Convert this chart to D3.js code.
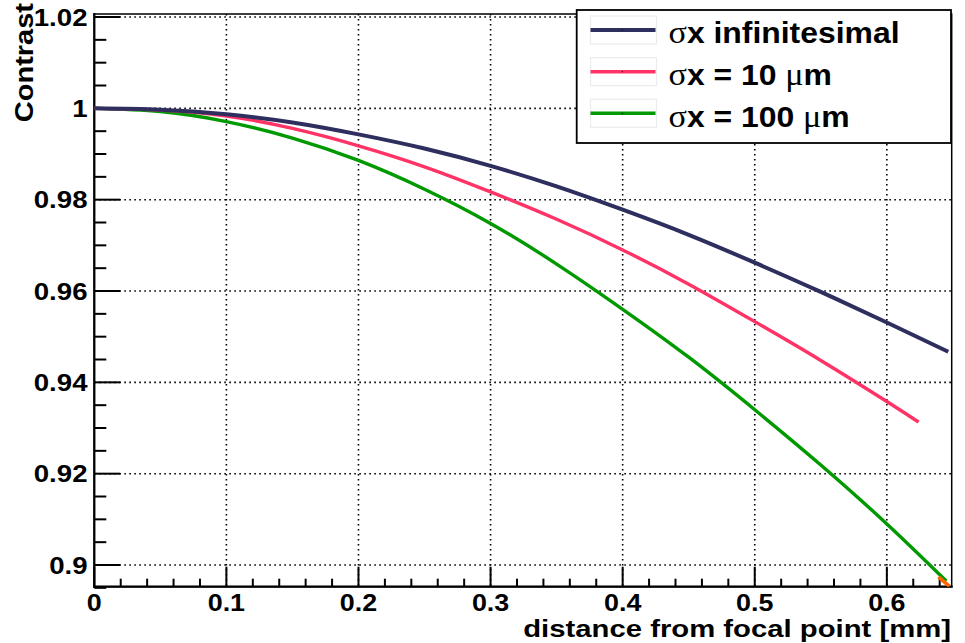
<!DOCTYPE html>
<html>
<head>
<meta charset="utf-8">
<script src="https://cdn.jsdelivr.net/npm/d3@7"></script>
<style>
  html, body { margin: 0; padding: 0; background: #fff; }
  svg { display: block; }
  text { font-family: "Liberation Sans", Arial, Helvetica, sans-serif; font-weight: bold; fill: #000; }
</style>
</head>
<body>
<svg id="chart" width="965" height="643"></svg>
<script>
// ---------------- data ----------------
const xInfinitesimal = [0, 0.05, 0.1, 0.15, 0.2, 0.25, 0.3, 0.35, 0.4, 0.45, 0.5, 0.55, 0.6, 0.6465];
const yInfinitesimal = [1.0, 0.9997, 0.9987, 0.9969, 0.9943, 0.9912, 0.9874, 0.9829, 0.9778, 0.9723, 0.9662, 0.9598, 0.9531, 0.9467];

const x10um = [0, 0.05, 0.1, 0.15, 0.2, 0.25, 0.3, 0.35, 0.4, 0.45, 0.5, 0.55, 0.6, 0.624];
const y10um = [1.0, 0.9996, 0.9983, 0.9956, 0.9918, 0.9872, 0.9817, 0.9757, 0.9690, 0.9615, 0.9533, 0.9448, 0.9358, 0.9313];

const x100um = [0, 0.05, 0.1, 0.15, 0.2, 0.25, 0.3, 0.35, 0.4, 0.45, 0.5, 0.55, 0.6, 0.645];
const y100um = [1.0, 0.9993, 0.9971, 0.9935, 0.9886, 0.9823, 0.9748, 0.9659, 0.9560, 0.9455, 0.9340, 0.9219, 0.9090, 0.8965];

const xExtra = [0.639, 0.6475];
const yExtra = [0.8974, 0.8953];

const xMajorTicks = [0, 0.1, 0.2, 0.3, 0.4, 0.5, 0.6];
const xTickLabels = ["0", "0.1", "0.2", "0.3", "0.4", "0.5", "0.6"];
const yMajorTicks = [0.9, 0.92, 0.94, 0.96, 0.98, 1.0, 1.02];
const yTickLabels = ["0.9", "0.92", "0.94", "0.96", "0.98", "1", "1.02"];

const legendLabels = [
  ["σ", "x infinitesimal"],
  ["σ", "x = 10 ", "μ", "m"],
  ["σ", "x = 100 ", "μ", "m"]
];
const seriesColors = ["#2f2f5f", "#ff3366", "#009900"];

// ---------------- layout ----------------
const L = 94.3, R = 951.7, T = 14, B = 586.7;
const svg = d3.select("#chart");

const x = d3.scaleLinear().domain([0, 0.6491]).range([L, R]);
const y = d3.scaleLinear().domain([0.89525, 1.02066]).range([B, T]);

// grid
const grid = svg.append("g").attr("stroke", "#000").attr("stroke-width", 1.6)
  .attr("stroke-dasharray", "1.6,3.4");
xMajorTicks.filter(v => v > 0).forEach(v => {
  grid.append("line").attr("x1", x(v)).attr("x2", x(v)).attr("y1", T).attr("y2", B);
});
yMajorTicks.forEach(v => {
  grid.append("line").attr("x1", L).attr("x2", R).attr("y1", y(v)).attr("y2", y(v));
});

// frame
svg.append("rect").attr("x", L).attr("y", T).attr("width", R - L).attr("height", B - T)
  .attr("fill", "none").attr("stroke", "#000").attr("stroke-width", 1.5);

// ticks
const ticks = svg.append("g").attr("stroke", "#000").attr("stroke-width", 2);
const xMinor = d3.range(0, 33).map(i => i * 0.02).filter(v => v <= 0.649);
xMinor.forEach(v => {
  const major = xMajorTicks.some(m => Math.abs(m - v) < 1e-6);
  ticks.append("line").attr("x1", x(v)).attr("x2", x(v)).attr("y1", B).attr("y2", B - (major ? 20 : 8));
});
const yMinor = d3.range(0, 25).map(i => 0.9 + i * 0.005).filter(v => v <= 1.0205);
yMinor.forEach(v => {
  const major = yMajorTicks.some(m => Math.abs(m - v) < 1e-6);
  ticks.append("line").attr("x1", L).attr("x2", L + (major ? 26 : 12)).attr("y1", y(v)).attr("y2", y(v));
});
ticks.append("line").attr("x1", L).attr("x2", L + 12).attr("y1", y(0.895)).attr("y2", y(0.895));

// axis lines
svg.append("line").attr("x1", L).attr("x2", L).attr("y1", T - 1).attr("y2", B + 1).attr("stroke", "#000").attr("stroke-width", 2.2);
svg.append("line").attr("x1", L - 1).attr("x2", R + 1).attr("y1", B).attr("y2", B).attr("stroke", "#000").attr("stroke-width", 2.2);

// text helper
function stext(g, px, py, str, size, anchor, sx, rot) {
  return g.append("text")
    .attr("transform", `translate(${px},${py})` + (rot ? ` rotate(${rot})` : "") + ` scale(${sx},1)`)
    .attr("font-size", size).attr("text-anchor", anchor).text(str);
}
xMajorTicks.forEach((v, i) => stext(svg, x(v), 611, xTickLabels[i], 24, "middle", 1.12));
yMajorTicks.forEach((v, i) => stext(svg, 87.5, y(v) + 8.5, yTickLabels[i], 24, "end", 1.15));

// axis titles
stext(svg, 951, 637, "distance from focal point [mm]", 24, "end", 1.22);
stext(svg, 33, 3, "Contrast", 25, "end", 1.16, -90);

// curves
const clip = svg.append("clipPath").attr("id", "plotclip");
clip.append("rect").attr("x", L).attr("y", T).attr("width", R - L).attr("height", B - T);
const line = d3.line().x(d => x(d[0])).y(d => y(d[1])).curve(d3.curveNatural);
const curves = svg.append("g").attr("clip-path", "url(#plotclip)").attr("fill", "none")
  .attr("stroke-linecap", "butt").attr("stroke-linejoin", "round");
const seriesData = [
  { xs: xInfinitesimal, ys: yInfinitesimal, w: 4 },
  { xs: x10um, ys: y10um, w: 3.4 },
  { xs: x100um, ys: y100um, w: 3.4 }
];
[2, 1, 0].forEach(i => {
  const s = seriesData[i];
  curves.append("path").datum(s.xs.map((v, j) => [v, s.ys[j]]))
    .attr("d", line).attr("stroke", seriesColors[i]).attr("stroke-width", s.w);
});
curves.append("path").datum(xExtra.map((v, j) => [v, yExtra[j]]))
  .attr("d", d3.line().x(d => x(d[0])).y(d => y(d[1])))
  .attr("stroke", "#ff6600").attr("stroke-width", 3.6);

// legend
const lg = svg.append("g");
lg.append("rect").attr("x", 576.7).attr("y", 10).attr("width", 951 - 576.7).attr("height", 133)
  .attr("fill", "#fff").attr("stroke", "#000").attr("stroke-width", 1.8);
const rowY = [30, 71.7, 113.3];
legendLabels.forEach((parts, i) => {
  const cy = rowY[i];
  lg.append("rect").attr("x", 590.5).attr("y", cy - 14).attr("width", 66).attr("height", 28)
    .attr("fill", "none").attr("stroke", "#ececec").attr("stroke-width", 1.2);
  lg.append("line").attr("x1", 590.5).attr("x2", 655.5).attr("y1", cy).attr("y2", cy)
    .attr("stroke", seriesColors[i]).attr("stroke-width", i === 0 ? 4 : 3.4);
  lg.append("rect").attr("x", 621.8).attr("y", cy - 0.5).attr("width", 1).attr("height", 1).attr("fill", "#000");
  const t = lg.append("text")
    .attr("transform", `translate(668.5,${cy + 13.3}) scale(1.1,1)`)
    .attr("font-size", 29);
  parts.forEach(p => {
    const greek = (p === "σ" || p === "μ");
    t.append("tspan").text(p)
      .attr("font-family", greek ? "'Liberation Serif', 'DejaVu Serif', serif" : null)
      .attr("font-weight", greek ? "normal" : null)
      .attr("font-size", greek ? 31 : null);
  });
});
</script>
</body>
</html>
